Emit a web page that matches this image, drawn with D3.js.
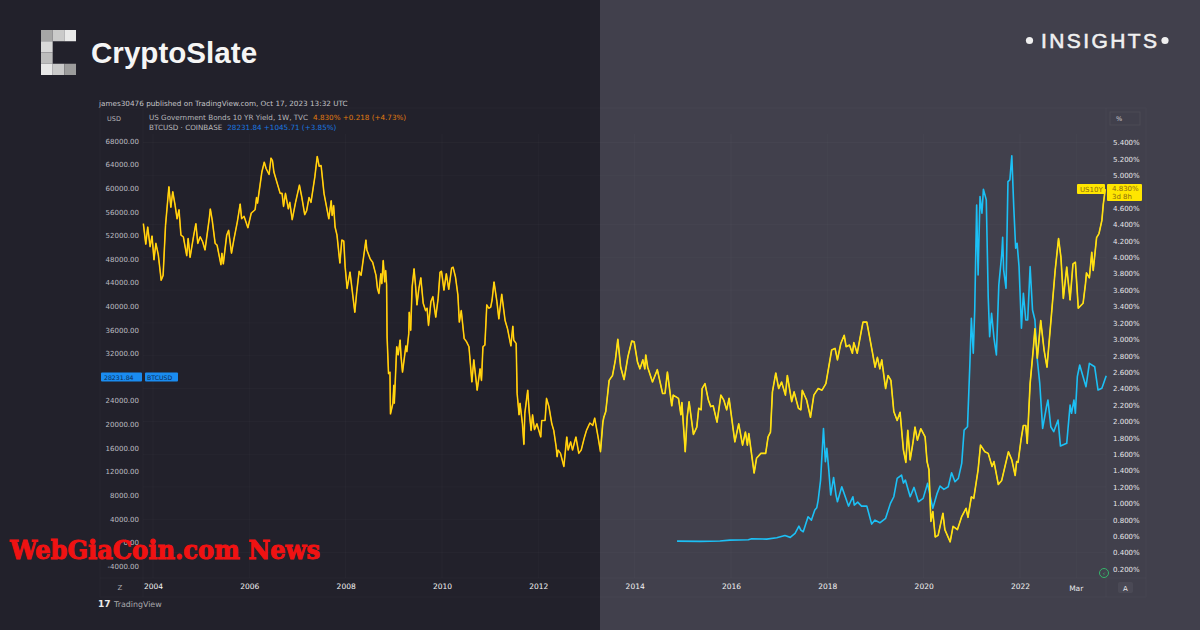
<!DOCTYPE html>
<html>
<head>
<meta charset="utf-8">
<script src="https://cdn.jsdelivr.net/npm/d3@7"></script>
<style>
  html, body { margin: 0; padding: 0; background: #22212b; }
  svg { display: block; }
  text { font-family: "DejaVu Sans", sans-serif; }
  .domain { display: none; }
</style>
</head>
<body>
<div id="chart"></div>
<script>
const usYears = [2003.80,2003.85,2003.89,2003.94,2003.98,2004.02,2004.06,2004.11,2004.17,2004.21,2004.26,2004.33,2004.37,2004.41,2004.46,2004.50,2004.54,2004.58,2004.63,2004.70,2004.73,2004.77,2004.84,2004.89,2004.93,2004.98,2005.03,2005.08,2005.17,2005.19,2005.23,2005.29,2005.33,2005.41,2005.43,2005.46,2005.53,2005.57,2005.63,2005.68,2005.75,2005.81,2005.84,2005.89,2005.97,2006.04,2006.12,2006.15,2006.17,2006.26,2006.31,2006.35,2006.41,2006.45,2006.48,2006.51,2006.64,2006.68,2006.71,2006.75,2006.81,2006.84,2006.89,2006.96,2007.04,2007.09,2007.15,2007.19,2007.24,2007.28,2007.36,2007.41,2007.45,2007.49,2007.55,2007.65,2007.70,2007.72,2007.75,2007.78,2007.82,2007.88,2007.92,2007.96,2007.99,2008.03,2008.09,2008.19,2008.23,2008.28,2008.32,2008.42,2008.44,2008.51,2008.56,2008.63,2008.66,2008.69,2008.73,2008.75,2008.78,2008.81,2008.83,2008.85,2008.86,2008.89,2008.92,2008.93,2008.98,2009.00,2009.01,2009.06,2009.09,2009.13,2009.15,2009.18,2009.25,2009.27,2009.31,2009.32,2009.35,2009.38,2009.42,2009.45,2009.48,2009.52,2009.56,2009.61,2009.66,2009.69,2009.72,2009.77,2009.81,2009.87,2009.92,2009.96,2009.99,2010.04,2010.09,2010.14,2010.20,2010.23,2010.28,2010.33,2010.36,2010.40,2010.46,2010.51,2010.56,2010.62,2010.66,2010.73,2010.79,2010.82,2010.85,2010.89,2010.93,2010.97,2011.01,2011.04,2011.08,2011.14,2011.18,2011.24,2011.31,2011.36,2011.43,2011.47,2011.49,2011.54,2011.56,2011.60,2011.62,2011.67,2011.70,2011.72,2011.78,2011.81,2011.85,2011.88,2011.92,2011.97,2012.05,2012.07,2012.14,2012.17,2012.22,2012.28,2012.32,2012.37,2012.39,2012.41,2012.46,2012.53,2012.59,2012.62,2012.67,2012.71,2012.78,2012.84,2012.89,2012.95,2013.00,2013.07,2013.13,2013.17,2013.24,2013.29,2013.34,2013.36,2013.40,2013.47,2013.54,2013.60,2013.65,2013.71,2013.78,2013.86,2013.94,2013.99,2014.06,2014.11,2014.17,2014.21,2014.23,2014.27,2014.37,2014.47,2014.58,2014.63,2014.68,2014.77,2014.80,2014.91,2014.96,2014.98,2015.05,2015.09,2015.13,2015.22,2015.29,2015.33,2015.38,2015.40,2015.46,2015.53,2015.58,2015.63,2015.71,2015.79,2015.85,2015.91,2015.96,2016.08,2016.16,2016.24,2016.30,2016.34,2016.37,2016.48,2016.53,2016.62,2016.72,2016.77,2016.82,2016.86,2016.93,2016.99,2017.05,2017.13,2017.17,2017.26,2017.31,2017.40,2017.45,2017.48,2017.57,2017.65,2017.72,2017.81,2017.89,2017.97,2018.09,2018.16,2018.21,2018.28,2018.35,2018.39,2018.46,2018.52,2018.55,2018.62,2018.74,2018.82,2018.94,2018.99,2019.04,2019.09,2019.13,2019.21,2019.26,2019.32,2019.38,2019.45,2019.51,2019.58,2019.63,2019.67,2019.72,2019.78,2019.82,2019.87,2019.94,2020.03,2020.07,2020.11,2020.15,2020.19,2020.24,2020.30,2020.40,2020.44,2020.55,2020.61,2020.70,2020.79,2020.88,2020.92,2020.99,2021.04,2021.13,2021.18,2021.27,2021.34,2021.42,2021.46,2021.55,2021.62,2021.76,2021.83,2021.90,2021.93,2021.96,2022.02,2022.07,2022.12,2022.15,2022.21,2022.28,2022.31,2022.36,2022.43,2022.50,2022.56,2022.66,2022.73,2022.80,2022.85,2022.90,2022.97,2023.04,2023.10,2023.15,2023.21,2023.31,2023.36,2023.38,2023.44,2023.49,2023.52,2023.59,2023.64,2023.70,2023.73,2023.77];
const usYield = [4.41,4.16,4.37,4.13,4.26,3.97,4.17,4.03,3.72,3.78,4.39,4.86,4.61,4.80,4.63,4.47,4.58,4.27,4.25,4.02,4.23,4.00,4.25,4.41,4.17,4.25,4.19,4.09,4.48,4.59,4.45,4.17,4.15,3.91,4.05,3.92,4.27,4.33,4.05,4.22,4.43,4.65,4.47,4.50,4.36,4.54,4.58,4.73,4.66,5.04,5.16,5.08,5.01,5.21,5.18,5.04,4.78,4.78,4.62,4.78,4.59,4.67,4.46,4.67,4.88,4.73,4.52,4.57,4.73,4.67,4.98,5.23,5.11,5.12,4.78,4.47,4.69,4.51,4.63,4.37,4.27,3.93,4.21,4.20,3.88,3.62,3.82,3.33,3.58,3.83,3.78,4.21,4.09,3.98,3.94,3.78,3.62,3.56,3.80,3.68,3.96,3.70,3.84,3.67,3.03,2.58,2.60,2.09,2.22,2.44,2.22,2.91,2.81,2.99,2.79,2.60,2.92,2.85,3.07,3.33,3.11,3.64,3.86,3.66,3.42,3.62,3.75,3.44,3.35,3.38,3.17,3.46,3.52,3.27,3.50,3.82,3.83,3.60,3.80,3.61,3.87,3.88,3.76,3.54,3.21,3.35,3.01,2.97,2.91,2.48,2.75,2.38,2.64,2.50,2.91,2.93,3.42,3.38,3.39,3.48,3.70,3.46,3.25,3.55,3.23,3.13,2.92,3.16,2.99,2.95,2.34,2.08,2.22,1.97,1.72,2.10,2.38,2.12,1.89,2.08,1.90,1.97,1.81,2.01,2.01,2.28,2.18,1.97,1.89,1.69,1.57,1.65,1.61,1.45,1.81,1.65,1.75,1.65,1.81,1.61,1.65,1.79,1.89,1.98,1.95,2.04,1.81,1.63,1.99,2.05,2.12,2.50,2.56,2.75,3.00,2.66,2.51,2.79,2.98,2.97,2.72,2.64,2.75,2.64,2.81,2.66,2.48,2.63,2.34,2.34,2.60,2.19,2.32,2.28,2.08,2.23,1.63,2.05,2.24,1.84,1.93,2.16,2.14,2.40,2.46,2.26,2.18,2.19,1.99,2.32,2.26,2.14,2.28,1.75,1.97,1.71,1.87,1.71,1.85,1.37,1.55,1.61,1.61,1.81,1.87,2.36,2.59,2.40,2.48,2.32,2.56,2.24,2.36,2.16,2.14,2.38,2.26,2.05,2.32,2.40,2.38,2.46,2.87,2.89,2.75,2.95,3.05,2.91,2.93,2.83,2.96,2.83,3.21,3.21,2.83,2.66,2.78,2.64,2.75,2.40,2.56,2.50,2.12,2.01,2.11,1.65,1.50,1.89,1.53,1.75,1.93,1.77,1.91,1.81,1.51,1.41,0.78,0.90,0.59,0.61,0.88,0.68,0.53,0.72,0.68,0.84,0.94,0.83,1.08,1.06,1.41,1.71,1.63,1.61,1.45,1.51,1.23,1.28,1.63,1.53,1.34,1.51,1.50,1.77,1.95,1.95,1.73,2.46,2.91,3.13,2.77,3.23,2.87,2.66,3.35,3.84,4.23,4.00,3.50,3.88,3.48,3.92,3.94,3.38,3.44,3.68,3.81,3.75,4.06,3.84,4.24,4.29,4.45,4.65,4.83];

const btcYears = [2014.88,2015.36,2015.77,2015.98,2016.36,2016.43,2016.74,2016.95,2017.12,2017.23,2017.33,2017.41,2017.45,2017.50,2017.60,2017.67,2017.74,2017.78,2017.81,2017.86,2017.92,2017.96,2017.99,2018.03,2018.07,2018.13,2018.18,2018.21,2018.30,2018.44,2018.53,2018.56,2018.63,2018.71,2018.82,2018.92,2018.99,2019.09,2019.21,2019.31,2019.38,2019.45,2019.54,2019.58,2019.62,2019.72,2019.80,2019.89,2019.99,2020.08,2020.19,2020.28,2020.34,2020.42,2020.51,2020.58,2020.65,2020.72,2020.79,2020.84,2020.91,2020.96,2020.99,2021.03,2021.06,2021.10,2021.13,2021.17,2021.21,2021.24,2021.30,2021.34,2021.37,2021.41,2021.46,2021.51,2021.56,2021.62,2021.64,2021.66,2021.71,2021.75,2021.79,2021.83,2021.87,2021.91,2021.94,2021.98,2022.03,2022.07,2022.12,2022.16,2022.21,2022.26,2022.31,2022.36,2022.41,2022.47,2022.55,2022.58,2022.64,2022.70,2022.79,2022.84,2022.97,2023.04,2023.07,2023.12,2023.15,2023.19,2023.24,2023.31,2023.37,2023.44,2023.55,2023.62,2023.70,2023.79];
const btcPrice = [220,170,230,390,440,610,560,780,1150,850,1530,2760,2080,1800,4340,3780,5470,5860,7170,10560,19290,13660,15930,12250,8020,11000,8020,6880,9420,6150,7730,6320,6830,6150,6150,3100,3780,3320,4070,6610,7730,10850,11410,10050,10560,7730,9320,6880,7460,10000,5760,8310,9540,8980,9420,11800,10270,10850,13390,19030,19590,30340,37970,32040,39370,57170,45300,58580,55770,59830,58020,41630,34850,38820,34580,31750,43610,48700,51700,46150,43050,61120,61410,65480,56880,49830,50680,46710,36270,42200,37680,37680,46710,39370,37680,30900,26950,19320,22980,24120,19590,18750,20730,16320,16780,23270,21870,24120,21870,28070,30050,28070,26370,30340,29760,25810,26100,28231.84];

const yearTicks = [2004,2006,2008,2010,2012,2014,2016,2018,2020,2022];
const usdTicks = [68000,64000,60000,56000,52000,48000,44000,40000,36000,32000,24000,20000,16000,12000,8000,4000,0,-4000];
const pctTicks = [5.4,5.2,5.0,4.6,4.4,4.2,4.0,3.8,3.6,3.4,3.2,3.0,2.8,2.6,2.4,2.2,2.0,1.8,1.6,1.4,1.2,1.0,0.8,0.6,0.4,0.2];
const logoCells = [[0,0,'#a6a6a6'],[1,0,'#cacaca'],[2,0,'#e9e9e9'],[0,1,'#d9d9d9'],[0,2,'#bdbdbd'],[0,3,'#e8e8e8'],[1,3,'#c9c9c9'],[2,3,'#9c9c9c']];

const WIDTH = 1200, HEIGHT = 630, SPLIT = 600;
const YELLOW = '#ffe014', ORANGE = '#f5a000', BLUE = '#1cc0f5';

const x = d3.scaleLinear().domain([2004, 2022]).range([153, 1020]);
const yUsd = d3.scaleLinear().domain([-4000, 68000]).range([566, 141]);
const yPct = d3.scaleLinear().domain([0.2, 5.4]).range([569, 142.5]);

const svg = d3.select('#chart').append('svg').attr('width', WIDTH).attr('height', HEIGHT);

// background panels
svg.append('rect').attr('width', SPLIT).attr('height', HEIGHT).attr('fill', '#22212b');
svg.append('rect').attr('x', SPLIT).attr('width', WIDTH - SPLIT).attr('height', HEIGHT).attr('fill', '#41404c');

// chart frame and grid
const grid = svg.append('g').attr('stroke', '#ffffff').attr('stroke-opacity', 0.025).attr('fill', 'none');
grid.append('rect').attr('x', 100).attr('y', 108).attr('width', 1046).attr('height', 489);
grid.selectAll('.vgrid').data(yearTicks.concat([2023.167])).join('line')
    .attr('x1', d => x(d)).attr('x2', d => x(d)).attr('y1', 134).attr('y2', 578);
grid.selectAll('.hgrid').data(pctTicks.filter((d, i) => i % 2 === 0)).join('line')
    .attr('x1', 143).attr('x2', 1106).attr('y1', d => yPct(d)).attr('y2', d => yPct(d));
grid.append('line').attr('x1', 100).attr('x2', 1146).attr('y1', 578).attr('y2', 578);
grid.append('line').attr('x1', 143).attr('x2', 143).attr('y1', 108).attr('y2', 597);
grid.append('line').attr('x1', 1106).attr('x2', 1106).attr('y1', 108).attr('y2', 597);

// gradient so the yield line is orange edged on the dark half only
const defs = svg.append('defs');
const grad = defs.append('linearGradient').attr('id', 'edge')
    .attr('gradientUnits', 'userSpaceOnUse')
    .attr('x1', 0).attr('x2', WIDTH).attr('y1', 0).attr('y2', 0);
grad.append('stop').attr('offset', SPLIT / WIDTH).attr('stop-color', ORANGE);
grad.append('stop').attr('offset', SPLIT / WIDTH).attr('stop-color', YELLOW);

const btcLine = d3.line().x((d, i) => x(btcYears[i])).y(d => yUsd(d));
const usLine = d3.line().x((d, i) => x(usYears[i])).y(d => yPct(d));

svg.append('path').datum(btcPrice).attr('d', btcLine)
    .attr('fill', 'none').attr('stroke', BLUE).attr('stroke-width', 1.6).attr('stroke-linejoin', 'round');
svg.append('path').datum(usYield).attr('d', usLine)
    .attr('fill', 'none').attr('stroke', 'url(#edge)').attr('stroke-width', 1.6).attr('stroke-linejoin', 'round');
svg.append('path').datum(usYield).attr('d', usLine)
    .attr('fill', 'none').attr('stroke', YELLOW).attr('stroke-width', 1).attr('stroke-linejoin', 'round');

// Axes
const styleAxis = (g, color, size) => {
    g.selectAll('text').attr('fill', color).attr('font-size', size);
    g.selectAll('line').remove();
};

svg.append('g').attr('transform', 'translate(139,0)')
    .call(d3.axisLeft(yUsd).tickValues(usdTicks).tickSize(0).tickPadding(0).tickFormat(d => d.toFixed(2)))
    .call(styleAxis, '#bdbdc2', 7);

svg.append('g').attr('transform', 'translate(1113,0)')
    .call(d3.axisRight(yPct).tickValues(pctTicks).tickSize(0).tickPadding(0).tickFormat(d => d3.format('.3f')(d) + '%'))
    .call(styleAxis, '#e6e6ea', 7);

svg.append('g').attr('transform', 'translate(0,584)')
    .call(d3.axisBottom(x).tickValues(yearTicks).tickSize(0).tickPadding(0).tickFormat(d3.format('d')))
    .call(styleAxis, '#f4f4f4', 7.5);

const addText = (parent, px, py, str, fill, size, extra = {}) => {
    const t = parent.append('text').attr('x', px).attr('y', py).attr('fill', fill).attr('font-size', size).text(str);
    Object.entries(extra).forEach(([k, v]) => t.attr(k, v));
    return t;
};

addText(svg, x(2023.167), 591, 'Mar', '#e6e6ea', 7.5, { 'text-anchor': 'middle' });
addText(svg, 120, 590, 'Z', '#a8a8ac', 7, { 'text-anchor': 'middle' });

// header texts
addText(svg, 99, 105.5, 'james30476 published on TradingView.com, Oct 17, 2023 13:32 UTC', '#c4c4c8', 7.25);
addText(svg, 107, 120.5, 'USD', '#b4b4b8', 6.5);
const line1 = addText(svg, 149, 119.7, 'US Government Bonds 10 YR Yield, 1W, TVC', '#b8b8bc', 7.2);
line1.append('tspan').attr('dx', 5).attr('fill', '#e07c10').text('4.830%  +0.218 (+4.73%)');
const line2 = addText(svg, 149, 129.5, 'BTCUSD · COINBASE', '#b8b8bc', 7.2);
line2.append('tspan').attr('dx', 5).attr('fill', '#1a78e0').text('28231.84  +1045.71 (+3.85%)');

// price tags
svg.append('rect').attr('x', 101).attr('y', 372.5).attr('width', 41).attr('height', 9).attr('rx', 1).attr('fill', '#1a8cf0');
svg.append('rect').attr('x', 145).attr('y', 372.5).attr('width', 33).attr('height', 9).attr('rx', 1).attr('fill', '#1a8cf0');
addText(svg, 104, 379.5, '28231.84', '#0b2a52', 6.2);
addText(svg, 147, 379.5, 'BTCUSD', '#0b2a52', 6.2);
svg.append('rect').attr('x', 1077).attr('y', 184).attr('width', 28).attr('height', 10).attr('rx', 1).attr('fill', '#ffe600');
svg.append('rect').attr('x', 1107).attr('y', 184).attr('width', 35).attr('height', 17).attr('rx', 1).attr('fill', '#ffe600');
addText(svg, 1080, 192, 'US10Y', '#8a6a10', 7);
addText(svg, 1112, 191, '4.830%', '#8a6a10', 7);
addText(svg, 1112, 199, '3d 8h', '#8a6a10', 7);

// small chart buttons
svg.append('rect').attr('x', 1110).attr('y', 112).attr('width', 30).attr('height', 13).attr('fill', 'none').attr('stroke', '#ffffff').attr('stroke-opacity', 0.06);
addText(svg, 1116, 121, '%', '#d0d0d4', 6.5);
svg.append('rect').attr('x', 1118).attr('y', 582).attr('width', 15).attr('height', 11).attr('rx', 2).attr('fill', '#ffffff').attr('fill-opacity', 0.05);
addText(svg, 1125.5, 590.5, 'A', '#e6e6ea', 7, { 'text-anchor': 'middle' });
svg.append('circle').attr('cx', 1104).attr('cy', 573).attr('r', 4.5).attr('fill', 'none').attr('stroke', '#35b56a').attr('stroke-width', 1);
addText(svg, 1104, 575.5, '⚡', '#35b56a', 5, { 'text-anchor': 'middle' });

// TradingView mark
addText(svg, 98, 607, '17', '#e8e8e8', 9, { 'font-weight': 'bold' });
addText(svg, 114, 607, 'TradingView', '#a8a8ac', 7.9);

// logo and titles
svg.append('g').selectAll('rect').data(logoCells).join('rect')
    .attr('x', d => 41 + d[0] * 11.67).attr('y', d => 30 + d[1] * 11.25)
    .attr('width', 11.67).attr('height', 11.25).attr('fill', d => d[2]);
addText(svg, 91, 63, 'CryptoSlate', '#f5f5f5', 29.6, { 'font-weight': 'bold', style: 'font-family:"Liberation Sans"' });
addText(svg, 1041, 48, 'INSIGHTS', '#f0f0f0', 21, {
    'letter-spacing': 2.4, stroke: '#f0f0f0', 'stroke-width': 0.6, style: 'font-family:"Liberation Sans"'
});
svg.append('circle').attr('cx', 1029.5).attr('cy', 40.5).attr('r', 3.6).attr('fill', '#f0f0f0');
svg.append('circle').attr('cx', 1165).attr('cy', 40.5).attr('r', 3.6).attr('fill', '#f0f0f0');

// watermark
addText(svg, 10, 559, 'WebGiaCoin.com News', '#f01212', 26, {
    'font-weight': 'bold', stroke: '#f01212', 'stroke-width': 1,
    textLength: 310, lengthAdjust: 'spacingAndGlyphs', style: 'font-family:"DejaVu Serif"'
});
</script>
</body>
</html>
